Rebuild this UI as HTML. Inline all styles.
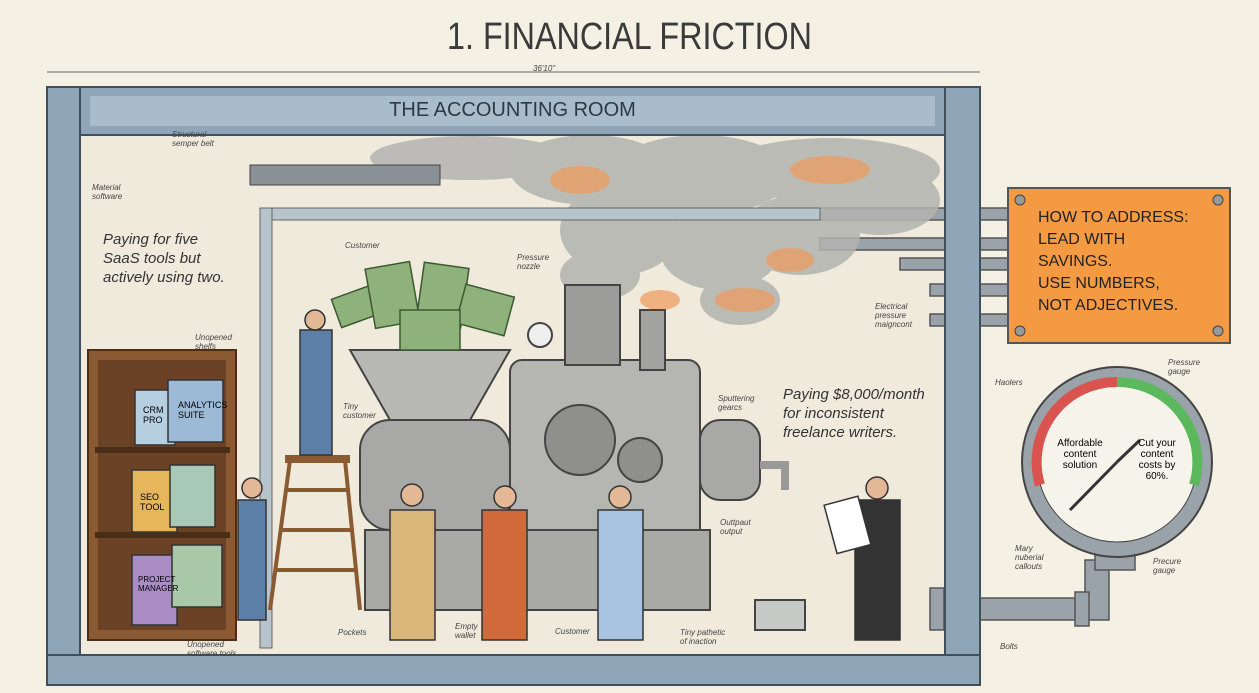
<!DOCTYPE html>
<html><head><meta charset="utf-8"><style>
body{margin:0;width:1259px;height:693px;overflow:hidden;background:#f4f0e4;font-family:"Liberation Sans",sans-serif}
.a{position:absolute}
.hand{font-family:"Liberation Sans",sans-serif;font-style:italic;color:#333}
.s{position:absolute;font-style:italic;font-size:8px;color:#444;line-height:9px}
</style></head><body>
<div class="a" style="left:0;top:16px;width:1259px;text-align:center;font-size:38px;color:#3a3a3a;transform:scaleX(0.85)">1. FINANCIAL FRICTION</div>
<svg class="a" style="left:0;top:0" width="1259" height="693">
<line x1="47" y1="72" x2="980" y2="72" stroke="#666"/>
<rect x="80" y="135" width="865" height="520" fill="#efeadc"/>
<g fill="#9aa3aa" stroke="#555" stroke-width="1.5">
<rect x="820" y="208" width="190" height="12"/><rect x="820" y="238" width="190" height="12"/>
<rect x="900" y="258" width="110" height="12"/><rect x="930" y="284" width="80" height="12"/><rect x="930" y="314" width="80" height="12"/>
<rect x="935" y="598" width="150" height="22"/><rect x="1085" y="560" width="24" height="60"/>
<rect x="1095" y="550" width="40" height="20"/>
<rect x="930" y="588" width="14" height="42"/><rect x="1075" y="592" width="14" height="34"/>
</g>
<g fill="#b3b3b0" opacity="0.85">
<ellipse cx="470" cy="158" rx="100" ry="22"/><ellipse cx="590" cy="170" rx="80" ry="35"/>
<ellipse cx="700" cy="175" rx="90" ry="40"/><ellipse cx="830" cy="170" rx="110" ry="32"/>
<ellipse cx="620" cy="230" rx="60" ry="45"/><ellipse cx="720" cy="250" rx="60" ry="40"/>
<ellipse cx="800" cy="235" rx="60" ry="40"/><ellipse cx="880" cy="200" rx="60" ry="35"/>
<ellipse cx="740" cy="300" rx="40" ry="25"/><ellipse cx="600" cy="275" rx="40" ry="25"/>
</g>
<g fill="#f09a5a" opacity="0.7">
<ellipse cx="580" cy="180" rx="30" ry="14"/><ellipse cx="830" cy="170" rx="40" ry="14"/>
<ellipse cx="745" cy="300" rx="30" ry="12"/><ellipse cx="660" cy="300" rx="20" ry="10"/><ellipse cx="790" cy="260" rx="24" ry="12"/>
</g>
<rect x="250" y="165" width="190" height="20" fill="#8a9196" stroke="#444"/>
<rect x="260" y="208" width="560" height="12" fill="#b7c4cc" stroke="#666"/>
<rect x="260" y="208" width="12" height="440" fill="#b7c4cc" stroke="#666"/>
<g stroke="#444" stroke-width="2">
<polygon points="350,350 510,350 470,420 390,420" fill="#b8b8b4"/>
<rect x="360" y="420" width="150" height="110" rx="30" fill="#a8a9a6"/>
<rect x="510" y="360" width="190" height="190" rx="12" fill="#b5b6b2"/>
<rect x="565" y="285" width="55" height="80" fill="#9c9d9a"/>
<rect x="640" y="310" width="25" height="60" fill="#a2a3a0"/>
<rect x="700" y="420" width="60" height="80" rx="20" fill="#a8a9a6"/>
<rect x="365" y="530" width="345" height="80" fill="#a9aaa6"/>
<circle cx="580" cy="440" r="35" fill="#8f908c"/><circle cx="640" cy="460" r="22" fill="#8f908c"/>
<circle cx="540" cy="335" r="12" fill="#eee"/>
<path d="M760,465 h25 v25" fill="none" stroke-width="8" stroke="#999"/>
<rect x="755" y="600" width="50" height="30" fill="#c7c9c6"/>
</g>
<g fill="#8fb17c" stroke="#3c5a30" stroke-width="1.5">
<rect x="335" y="290" width="50" height="30" transform="rotate(-20 360 305)"/>
<rect x="370" y="265" width="45" height="60" transform="rotate(-10 392 295)"/>
<rect x="420" y="265" width="45" height="60" transform="rotate(8 442 295)"/>
<rect x="460" y="290" width="50" height="40" transform="rotate(15 485 310)"/>
<rect x="400" y="310" width="60" height="40"/>
</g>
<g stroke="#8a5a32" stroke-width="4"><line x1="290" y1="460" x2="270" y2="610"/><line x1="345" y1="460" x2="360" y2="610"/>
<line x1="285" y1="490" x2="350" y2="490"/><line x1="280" y1="530" x2="353" y2="530"/><line x1="275" y1="570" x2="357" y2="570"/></g>
<rect x="285" y="455" width="65" height="8" fill="#8a5a32"/>
<rect x="88" y="350" width="148" height="290" fill="#8b5a32" stroke="#4a2e18" stroke-width="2"/>
<rect x="98" y="360" width="128" height="270" fill="#6b4226"/>
<g stroke="#4a2e18" stroke-width="6"><line x1="95" y1="450" x2="230" y2="450"/><line x1="95" y1="535" x2="230" y2="535"/></g>
<g stroke="#333" stroke-width="1.5">
<rect x="135" y="390" width="40" height="55" fill="#b6cfe0"/><rect x="168" y="380" width="55" height="62" fill="#9cbad6"/>
<rect x="132" y="470" width="45" height="62" fill="#e6b75a"/><rect x="170" y="465" width="45" height="62" fill="#a8c8b8"/>
<rect x="132" y="555" width="45" height="70" fill="#a98cc4"/><rect x="172" y="545" width="50" height="62" fill="#a8c8a8"/>
</g>
<g stroke="#333" stroke-width="1.5">
<rect x="300" y="330" width="32" height="125" fill="#5c7fa8"/><circle cx="315" cy="320" r="10" fill="#e3b896"/>
<rect x="238" y="500" width="28" height="120" fill="#5c7fa8"/><circle cx="252" cy="488" r="10" fill="#e3b896"/>
<rect x="390" y="510" width="45" height="130" fill="#d9b67a"/><circle cx="412" cy="495" r="11" fill="#e3b896"/>
<rect x="482" y="510" width="45" height="130" fill="#d2693a"/><circle cx="505" cy="497" r="11" fill="#e3b896"/>
<rect x="598" y="510" width="45" height="130" fill="#a9c4e0"/><circle cx="620" cy="497" r="11" fill="#e3b896"/>
<rect x="855" y="500" width="45" height="140" fill="#333"/><circle cx="877" cy="488" r="11" fill="#e3b896"/>
<rect x="830" y="500" width="35" height="50" fill="#fff" transform="rotate(-15 847 525)"/>
</g>
<g fill="#8fa6b8" stroke="#3f4f5c" stroke-width="2">
<rect x="47" y="87" width="933" height="48"/>
<rect x="47" y="87" width="33" height="598"/>
<rect x="945" y="87" width="35" height="598"/>
<rect x="47" y="655" width="933" height="30"/>
</g>
<rect x="90" y="96" width="845" height="30" fill="#a8bccb"/>
<rect x="1008" y="188" width="222" height="155" fill="#f39a43" stroke="#555" stroke-width="2"/>
<g fill="#999" stroke="#444"><circle cx="1020" cy="200" r="5"/><circle cx="1218" cy="200" r="5"/><circle cx="1020" cy="331" r="5"/><circle cx="1218" cy="331" r="5"/></g>
<circle cx="1117" cy="462" r="95" fill="#9aa3aa" stroke="#444" stroke-width="2"/>
<circle cx="1117" cy="462" r="80" fill="#f6f3ea" stroke="#444"/>
<path d="M1117,382 A80,80 0 0 0 1040,485" fill="none" stroke="#d9534f" stroke-width="10"/>
<path d="M1117,382 A80,80 0 0 1 1194,485" fill="none" stroke="#5cb85c" stroke-width="10"/>
<line x1="1117" y1="462" x2="1070" y2="510" stroke="#333" stroke-width="3"/>
<line x1="1117" y1="462" x2="1140" y2="440" stroke="#333" stroke-width="3"/>
</svg>
<div class="a" style="left:90px;top:99px;width:845px;text-align:center;font-size:20px;color:#2d3a44">THE ACCOUNTING ROOM</div>
<div class="a hand" style="left:103px;top:230px;font-size:15px;line-height:19px">Paying for five<br>SaaS tools but<br>actively using two.</div>
<div class="a hand" style="left:783px;top:385px;font-size:15px;line-height:19px">Paying $8,000/month<br>for inconsistent<br>freelance writers.</div>
<div class="a" style="left:1038px;top:207px;font-size:16px;line-height:22px;color:#222">HOW TO ADDRESS:<br>LEAD WITH<br>SAVINGS.<br>USE NUMBERS,<br>NOT ADJECTIVES.</div>
<div class="a" style="left:1055px;top:438px;font-size:10px;text-align:center;width:50px">Affordable content solution</div>
<div class="a" style="left:1132px;top:438px;font-size:10px;text-align:center;width:50px">Cut your content costs by 60%.</div>
<div class="a" style="left:143px;top:405px;font-size:9px">CRM<br>PRO</div>
<div class="a" style="left:178px;top:400px;font-size:9px">ANALYTICS<br>SUITE</div>
<div class="a" style="left:140px;top:492px;font-size:9px">SEO<br>TOOL</div>
<div class="a" style="left:138px;top:575px;font-size:8px">PROJECT<br>MANAGER</div>
<div class="s" style="left:172px;top:130px">Structural<br>semper belt</div>
<div class="s" style="left:92px;top:183px">Material<br>software</div>
<div class="s" style="left:345px;top:241px">Customer</div>
<div class="s" style="left:517px;top:253px">Pressure<br>nozzle</div>
<div class="s" style="left:195px;top:333px">Unopened<br>shelfs</div>
<div class="s" style="left:343px;top:402px">Tiny<br>customer</div>
<div class="s" style="left:718px;top:394px">Sputtering<br>gearcs</div>
<div class="s" style="left:875px;top:302px">Electrical<br>pressure<br>maigncont</div>
<div class="s" style="left:995px;top:378px">Haolers</div>
<div class="s" style="left:1168px;top:358px">Pressure<br>gauge</div>
<div class="s" style="left:720px;top:518px">Outtpaut<br>output</div>
<div class="s" style="left:1015px;top:544px">Mary<br>nuberial<br>callouts</div>
<div class="s" style="left:1153px;top:557px">Precure<br>gauge</div>
<div class="s" style="left:338px;top:628px">Pockets</div>
<div class="s" style="left:455px;top:622px">Empty<br>wallet</div>
<div class="s" style="left:555px;top:627px">Customer</div>
<div class="s" style="left:680px;top:628px">Tiny pathetic<br>of inaction</div>
<div class="s" style="left:187px;top:640px">Unopened<br>software tools</div>
<div class="s" style="left:1000px;top:642px">Bolts</div>
<div class="s" style="left:533px;top:64px">36'10"</div>
</body></html>
